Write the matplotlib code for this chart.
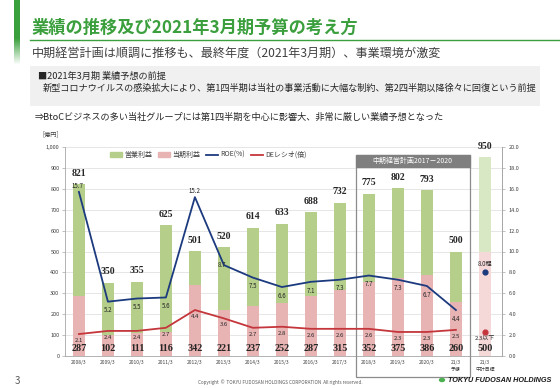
import matplotlib
matplotlib.use("Agg")
import matplotlib.pyplot as plt
import numpy as np
from matplotlib.patches import Rectangle, Circle
from matplotlib.lines import Line2D
from matplotlib.patches import Patch

plt.rcParams['font.family'] = ['Noto Sans CJK JP', 'DejaVu Sans']

# ---------------- data ----------------
categories = ["2008/3", "2009/3", "2010/3", "2011/3", "2012/3", "2013/3", "2014/3",
              "2015/3", "2016/3", "2017/3", "2018/3", "2019/3", "2020/3",
              "21/3\n予想", "21/3\n中計目標"]
operating_profit = [821, 350, 355, 625, 501, 520, 614, 633, 688, 732, 775, 802, 793, 500, 950]
net_income = [287, 102, 111, 116, 342, 221, 237, 252, 287, 315, 352, 375, 386, 260, 500]
roe = [15.7, 5.2, 5.5, 5.6, 15.2, 8.7, 7.5, 6.6, 7.1, 7.3, 7.7, 7.3, 6.7, 4.4]
de_ratio = [2.1, 2.4, 2.4, 2.7, 4.4, 3.6, 2.7, 2.8, 2.6, 2.6, 2.6, 2.3, 2.3, 2.5]
roe_target = 8.0
de_target = 2.3
roe_target_label = "8.0程"
de_target_label = "2.3以下"
left_ticks = [0, 100, 200, 300, 400, 500, 600, 700, 800, 900, 1000]
right_ticks = [0, 2, 4, 6, 8, 10, 12, 14, 16, 18, 20]

# ---------------- style ----------------
GREEN = "#b5cf8b"
PINK = "#e8b3b3"
GREEN_L = "#d9e8c4"
PINK_L = "#f5d9d9"
BLUE = "#1c3a7e"
RED = "#c4363b"
TXT = "#262626"
TITLE_GREEN = "#3a9f3c"

W, H = 560, 388
fig = plt.figure(figsize=(5.6, 3.88), dpi=100)

def fx(px):
    return px / W

def fy(py):
    return 1 - py / H

# ---------------- header ----------------
deco = fig.add_axes([fx(14), fy(64), fx(6), 64 / H])
grad = np.ones((64, 1, 4))
g = np.array([58, 160, 60]) / 255
for i in range(64):
    a = 1.0 if i < 38 else max(0.0, 1 - (i - 38) / 26)
    grad[i, 0, :3] = g
    grad[i, 0, 3] = a
deco.imshow(grad, aspect='auto', interpolation='bilinear')
deco.axis('off')

fig.text(fx(32), fy(28), "業績の推移及び2021年3月期予算の考え方", fontsize=12.4,
         fontweight='bold', color=TITLE_GREEN, va='center', ha='left')
fig.add_artist(Line2D([fx(30), fx(560)], [fy(40), fy(40)], color=TITLE_GREEN, lw=1.0))
fig.text(fx(32), fy(53), "中期経営計画は順調に推移も、最終年度（2021年3月期）、事業環境が激変",
         fontsize=8.7, color="#404040", va='center', ha='left')

fig.add_artist(Rectangle((fx(30), fy(106)), fx(540) - fx(30), (106 - 66) / H,
                         facecolor="#f0f0f0", edgecolor='none'))
fig.text(fx(38), fy(76), "■2021年3月期 業績予想の前提", fontsize=6.6, color=TXT,
         va='center', ha='left')
fig.text(fx(43), fy(88), "新型コロナウイルスの感染拡大により、第1四半期は当社の事業活動に大幅な制約、第2四半期以降徐々に回復という前提",
         fontsize=6.6, color=TXT, va='center', ha='left')
fig.text(fx(35), fy(117), "⇒BtoCビジネスの多い当社グループには第1四半期を中心に影響大、非常に厳しい業績予想となった",
         fontsize=6.6, color=TXT, va='center', ha='left')
fig.text(fx(42), fy(134), "[億円]", fontsize=4.5, color="#404040", va='center', ha='left')

# ---------------- chart ----------------
ax = fig.add_axes([fx(65), fy(356), fx(502) - fx(65), (356 - 147) / H])
x = np.arange(len(categories))
n_act = len(roe)
op_colors = [GREEN] * (len(categories) - 1) + [GREEN_L]
ni_colors = [PINK] * (len(categories) - 1) + [PINK_L]
bw = 0.42
ax.bar(x, operating_profit, width=bw, color=op_colors, zorder=2, label="営業利益")
ax.bar(x, net_income, width=bw, color=ni_colors, zorder=3, label="当期利益")
ax.set_ylim(0, 1000)
ax.set_xlim(-0.48, 14.59)
ax.set_yticks(left_ticks)
ax.set_yticklabels([f"{v:,}" for v in left_ticks], fontsize=4, color="#404040")
ax.set_xticks(x)
ax.set_xticklabels(categories, fontsize=3.5, color="#404040", linespacing=1.5)
ax.tick_params(axis='x', length=0, pad=3)
ax.tick_params(axis='y', length=2, width=0.5, color="#a6a6a6", pad=2)
ax.grid(axis='y', color="#dcdcdc", lw=0.5, zorder=0)
ax.set_axisbelow(True)
ax.spines['top'].set_visible(False)
for s in ['left', 'bottom', 'right']:
    ax.spines[s].set_color("#a6a6a6")
    ax.spines[s].set_linewidth(0.6)

for xi, v in zip(x, operating_profit):
    ax.annotate(f"{v}", (xi, v), xytext=(0, 8), textcoords='offset points',
                ha='center', va='center', fontsize=7, fontweight='bold',
                family='Liberation Serif', color=TXT, zorder=6)
for xi, v in zip(x, net_income):
    ax.annotate(f"{v}", (xi, 0), xytext=(0, 5.5), textcoords='offset points',
                ha='center', va='center', fontsize=7.3, fontweight='bold',
                family='Liberation Serif', color=TXT, zorder=6)

ax2 = ax.twinx()
ax2.set_ylim(0, 20)
ax2.set_yticks(right_ticks)
ax2.set_yticklabels([f"{v:.1f}" for v in right_ticks], fontsize=4, color="#404040")
ax2.tick_params(axis='y', length=2, width=0.5, color="#a6a6a6", pad=3)
for s in ['top', 'left', 'bottom']:
    ax2.spines[s].set_visible(False)
ax2.spines['right'].set_color("#a6a6a6")
ax2.spines['right'].set_linewidth(0.6)

ax2.plot(x[:n_act], roe, color=BLUE, lw=1.3, zorder=5, label="ROE(%)")
ax2.plot(x[:n_act], de_ratio, color=RED, lw=1.3, zorder=5, label="DEレシオ(倍)")
ax2.scatter([x[-1]], [roe_target], s=12, color=BLUE, zorder=6)
ax2.scatter([x[-1]], [de_target], s=12, color=RED, zorder=6)

roe_off = {0: (-1, 4.5), 4: (0, 4.5), 5: (-1.5, 0)}
for i, v in enumerate(roe):
    dx, dy = roe_off.get(i, (0, -6.3))
    ax2.annotate(f"{v}", (x[i], v), xytext=(dx, dy), textcoords='offset points',
                 ha='center', va='center', fontsize=4.4, color=TXT, zorder=7)
for i, v in enumerate(de_ratio):
    ax2.annotate(f"{v}", (x[i], v), xytext=(0, -4.6), textcoords='offset points',
                 ha='center', va='center', fontsize=4.3, color=TXT, zorder=7)
ax2.annotate(roe_target_label, (x[-1], roe_target), xytext=(0, 5.8), textcoords='offset points',
             ha='center', va='center', fontsize=4.4, color=TXT, zorder=7)
ax2.annotate(de_target_label, (x[-1], de_target), xytext=(0, -4.8), textcoords='offset points',
             ha='center', va='center', fontsize=4.3, color=TXT, zorder=7)

# mid-term plan box
ax.add_patch(Rectangle((9.55, -100), 3.93, 1062, fill=False, ec="#8c8c8c", lw=0.9,
                       clip_on=False, zorder=8))
ax.add_patch(Rectangle((9.55, 904), 3.93, 58, facecolor="#7f7f7f", ec="#7f7f7f", lw=0.9,
                       clip_on=False, zorder=8))
ax.text(9.55 + 3.93 / 2, 933, "中期経営計画2017－2020", fontsize=5, color="white",
        ha='center', va='center', zorder=9, clip_on=False)

# legend
handles = [Patch(color=GREEN, label="営業利益"), Patch(color=PINK, label="当期利益"),
           Line2D([], [], color=BLUE, lw=1.3, label="ROE(%)"),
           Line2D([], [], color=RED, lw=1.3, label="DEレシオ(倍)")]
fig.legend(handles=handles, loc='center left', bbox_to_anchor=(fx(110), fy(155)),
           ncol=4, frameon=False, fontsize=5, handlelength=1.7, handleheight=0.55,
           handletextpad=0.3, columnspacing=0.9, borderpad=0, borderaxespad=0,
           labelcolor="#404040")

# ---------------- footer ----------------
fig.text(fx(15), fy(381), "3", fontsize=7, color="#595959", va='center', ha='left')
fig.text(fx(280), fy(382), "Copyright  ©  TOKYU FUDOSAN HOLDINGS CORPORATION  All rights reserved.",
         fontsize=3.3, color="#595959", va='center', ha='center')
fig.add_artist(Circle((fx(442), fy(380)), 3.2 / W, transform=fig.transFigure,
                      facecolor="#4caf50", edgecolor='none'))
fig.text(fx(448), fy(380), "TOKYU FUDOSAN HOLDINGS", fontsize=5.2, fontweight='bold',
         fontstyle='italic', family='Liberation Sans', color="#1a1a1a", va='center', ha='left')

fig.savefig("out.png", dpi=100)
